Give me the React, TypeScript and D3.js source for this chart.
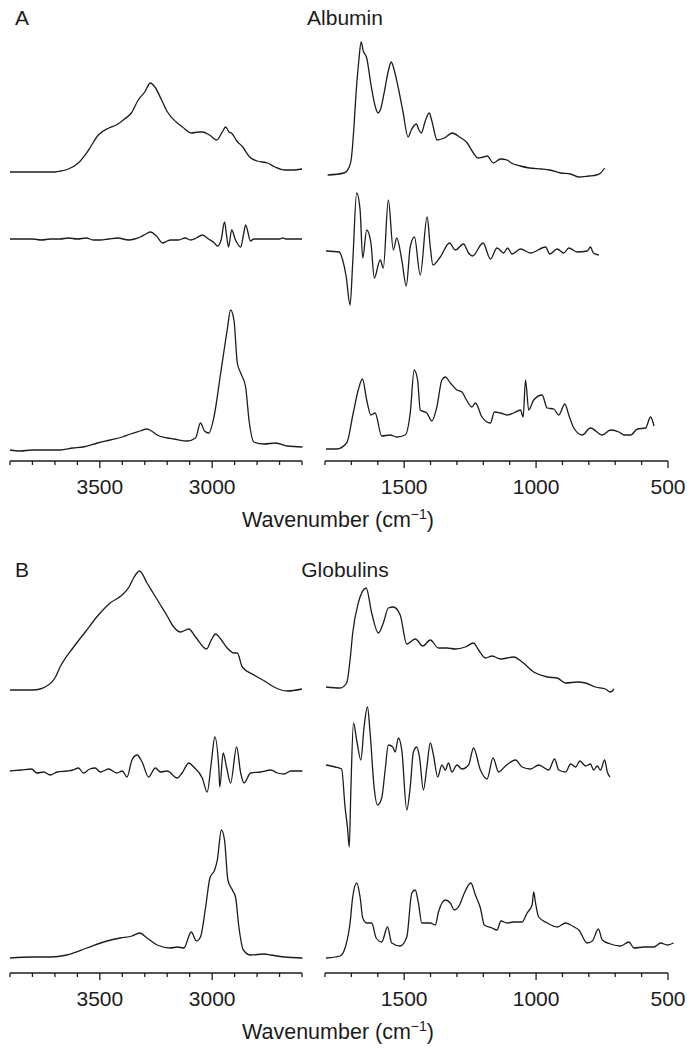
import React from "react";
import * as d3 from "d3";

const W = 693;
const H = 1050;

// [wavenumber (cm-1), relative intensity]
// Albumin: Raman-like spectrum, second derivative, FTIR spectrum
const albuminTopLeft: [number, number][] = [
  [3900, 0], [3850, 0], [3800, 0], [3750, 0], [3700, 0], [3672, 1], [3640, 3], [3596, 9],
  [3550, 22], [3507, 37], [3460, 44], [3427, 47], [3390, 53], [3360, 59], [3329, 72], [3300, 80],
  [3275, 89], [3255, 85], [3225, 72], [3199, 60], [3160, 50], [3132, 45], [3092, 39], [3060, 40],
  [3043, 40], [3012, 37], [2980, 32], [2955, 40], [2940, 45], [2925, 40], [2914, 39], [2890, 31],
  [2864, 25], [2833, 15], [2800, 11], [2753, 9], [2720, 5], [2677, 2], [2640, 2], [2600, 3],
];
const albuminTopRight: [number, number][] = [
  [1790, 1], [1728, 3], [1710, 8], [1701, 16], [1690, 50], [1684, 76], [1672, 115], [1663, 134],
  [1655, 125], [1642, 118], [1625, 90], [1610, 70], [1599, 63], [1588, 68], [1576, 83], [1560, 105],
  [1549, 114], [1540, 108], [1523, 89], [1505, 65], [1485, 39], [1473, 46], [1454, 52], [1444, 46],
  [1435, 43], [1420, 55], [1405, 63], [1395, 55], [1375, 36], [1348, 38], [1318, 43], [1290, 39],
  [1261, 33], [1240, 24], [1219, 18], [1200, 19], [1185, 20], [1162, 13], [1135, 17], [1110, 16],
  [1094, 13], [1060, 10], [1025, 8], [980, 7], [949, 6], [907, 3], [870, 2], [839, -1], [800, 0],
  [771, 1], [755, 3], [740, 8],
];
const albuminDerivLeft: [number, number][] = [
  [3900, 0], [3850, 0], [3800, 0], [3760, -1], [3720, 0], [3677, 0], [3640, 1], [3600, 0],
  [3560, 1], [3530, -1], [3498, -1], [3460, 0], [3420, 1], [3373, -1], [3345, 0], [3320, 2],
  [3295, 5], [3275, 7], [3248, 3], [3221, -4], [3200, -2], [3186, -1], [3150, -1], [3120, 1],
  [3096, -1], [3070, 1], [3043, 4], [3016, 0], [2990, -4], [2976, -7], [2960, -1], [2945, 17],
  [2935, 2], [2927, -8], [2913, 9], [2896, -1], [2873, -8], [2860, 5], [2851, 14], [2829, -2],
  [2815, 0], [2780, 0], [2739, 0], [2700, 0], [2686, 1], [2672, 0], [2600, 0],
];
const albuminDerivRight: [number, number][] = [
  [1796, 0], [1746, -1], [1733, -9], [1720, -25], [1705, -54], [1695, -12], [1680, 58], [1667, 41],
  [1657, -7], [1642, 21], [1626, 8], [1613, -27], [1591, -9], [1579, -17], [1560, 51], [1541, 1],
  [1528, 13], [1509, -9], [1492, -35], [1477, 4], [1461, 14], [1439, -24], [1413, 34], [1401, 4],
  [1391, -14], [1363, -6], [1328, 8], [1306, 1], [1275, 7], [1256, -2], [1241, -5], [1201, 8],
  [1173, -8], [1148, 3], [1123, -2], [1108, 3], [1091, -3], [1059, 2], [1021, -2], [964, 4],
  [948, -3], [920, 2], [895, -2], [876, 3], [844, -1], [806, 0], [794, 4], [783, -2], [762, -4],
];
const albuminBottomLeft: [number, number][] = [
  [3900, 0], [3855, -1], [3800, 0], [3750, 0], [3677, 0], [3620, 2], [3574, 3], [3510, 7],
  [3454, 10], [3400, 13], [3364, 16], [3320, 19], [3290, 21], [3270, 19], [3245, 15], [3200, 12],
  [3171, 11], [3111, 9], [3074, 12], [3052, 27], [3034, 19], [3015, 17], [2992, 33], [2962, 77],
  [2933, 120], [2918, 140], [2903, 130], [2888, 87], [2873, 77], [2851, 63], [2836, 30], [2814, 8],
  [2769, 6], [2717, 7], [2665, 4], [2598, 3],
];
const albuminBottomRight: [number, number][] = [
  [1796, 0], [1756, 0], [1718, 6], [1693, 36], [1674, 59], [1658, 70], [1642, 49], [1626, 34],
  [1610, 36], [1585, 13], [1553, 14], [1528, 12], [1496, 14], [1477, 36], [1462, 79], [1449, 69],
  [1439, 39], [1414, 36], [1395, 28], [1376, 42], [1357, 69], [1344, 72], [1325, 66], [1300, 59],
  [1281, 57], [1268, 51], [1243, 42], [1230, 46], [1205, 32], [1173, 26], [1158, 37], [1135, 36],
  [1110, 34], [1085, 36], [1059, 39], [1049, 32], [1040, 69], [1028, 39], [1009, 49], [977, 54],
  [958, 41], [933, 40], [914, 34], [891, 45], [876, 34], [857, 21], [825, 14], [794, 21], [749, 14],
  [718, 19], [686, 17], [667, 14], [642, 14], [616, 20], [585, 21], [566, 32], [553, 23],
];

// Globulins
const globulinTopLeft: [number, number][] = [
  [3900, 0], [3800, 0], [3766, 1], [3744, 3], [3700, 12], [3677, 23], [3620, 42], [3565, 58],
  [3510, 74], [3454, 87], [3401, 95], [3370, 103], [3350, 112], [3323, 119], [3290, 107], [3260, 96],
  [3230, 85], [3200, 74], [3171, 63], [3141, 58], [3104, 61], [3074, 53], [3025, 41], [3004, 50],
  [2985, 56], [2962, 51], [2933, 42], [2903, 37], [2888, 37], [2866, 23], [2814, 15], [2760, 8],
  [2725, 3], [2665, -1], [2600, 1],
];
const globulinTopRight: [number, number][] = [
  [1796, 2], [1743, 1], [1718, 6], [1705, 29], [1695, 56], [1674, 86], [1644, 101], [1623, 76],
  [1598, 56], [1579, 66], [1560, 81], [1541, 82], [1515, 74], [1490, 45], [1458, 50], [1429, 43],
  [1401, 49], [1370, 41], [1338, 41], [1306, 40], [1268, 42], [1237, 46], [1218, 39], [1192, 31],
  [1167, 33], [1135, 30], [1085, 32], [1053, 27], [1009, 17], [958, 12], [920, 11], [888, 6],
  [844, 7], [813, 6], [775, 2], [737, 0], [718, -3], [705, 0],
];
const globulinDerivLeft: [number, number][] = [
  [3900, 0], [3850, 1], [3803, 2], [3781, -2], [3750, -1], [3721, -4], [3690, -1], [3647, 0],
  [3620, 1], [3595, 3], [3573, -2], [3545, 2], [3521, 3], [3498, -1], [3461, 2], [3424, -2],
  [3400, 0], [3379, -6], [3357, 11], [3334, 16], [3312, 9], [3283, -6], [3253, 3], [3230, -1],
  [3200, 0], [3156, -7], [3134, -2], [3104, 8], [3082, 4], [3044, -7], [3022, -21], [3004, 8],
  [2988, 34], [2970, 1], [2966, -16], [2951, 18], [2936, 4], [2918, -12], [2891, 24], [2873, -2],
  [2858, -12], [2829, -2], [2784, -1], [2739, 1], [2709, -2], [2680, -3], [2650, 0], [2598, 0],
];
const globulinDerivRight: [number, number][] = [
  [1796, 1], [1762, -1], [1737, -3], [1724, -41], [1715, -61], [1708, -81], [1702, -24], [1692, 43],
  [1680, 26], [1664, 6], [1652, 39], [1639, 59], [1629, 33], [1614, -21], [1601, -39], [1585, -32],
  [1572, -4], [1560, 21], [1543, 19], [1534, 14], [1522, 28], [1509, 16], [1490, -44], [1477, -21],
  [1465, 14], [1452, 19], [1442, 9], [1427, -24], [1414, -1], [1401, 23], [1389, 11], [1373, -11],
  [1357, 1], [1344, -4], [1332, 3], [1319, -6], [1300, 1], [1281, -3], [1256, 1], [1237, 18],
  [1211, -4], [1186, -13], [1163, 8], [1142, -6], [1116, 0], [1078, 6], [1053, -1], [1021, -3],
  [990, 1], [952, -4], [930, 7], [914, -4], [888, -6], [869, 2], [850, -1], [834, 5], [812, 0],
  [794, 2], [782, -4], [768, 0], [756, -4], [740, 6], [730, -6], [720, -11],
];
const globulinBottomLeft: [number, number][] = [
  [3900, 0], [3800, 1], [3721, 1], [3647, 3], [3558, 10], [3468, 17], [3409, 20], [3357, 22],
  [3323, 25], [3290, 20], [3245, 13], [3186, 10], [3156, 11], [3126, 10], [3093, 26], [3070, 17],
  [3052, 21], [3029, 51], [3010, 80], [2989, 88], [2977, 98], [2959, 128], [2945, 118], [2930, 78],
  [2910, 68], [2896, 61], [2881, 31], [2861, 8], [2829, 3], [2769, 4], [2739, 3], [2680, 1], [2598, 0],
];
const globulinBottomRight: [number, number][] = [
  [1796, 0], [1743, 2], [1724, 10], [1705, 35], [1695, 61], [1680, 75], [1667, 61], [1657, 40],
  [1642, 35], [1623, 35], [1606, 20], [1585, 16], [1563, 31], [1547, 15], [1515, 12], [1490, 21],
  [1471, 65], [1458, 68], [1446, 55], [1433, 35], [1401, 35], [1382, 33], [1370, 46], [1344, 58],
  [1325, 55], [1310, 48], [1290, 53], [1275, 63], [1247, 75], [1230, 63], [1211, 50], [1196, 33],
  [1167, 30], [1148, 28], [1133, 37], [1110, 35], [1085, 36], [1053, 36], [1034, 45], [1015, 53],
  [1009, 66], [1002, 55], [990, 41], [958, 35], [920, 31], [888, 35], [869, 33], [856, 31], [838, 28],
  [806, 15], [787, 17], [764, 29], [749, 18], [718, 14], [680, 12], [648, 16], [629, 10], [591, 11],
  [553, 11], [528, 15], [502, 13], [479, 15],
];

const leftMajor = [3500, 3000];
const leftMinor = [3900, 3800, 3700, 3600, 3400, 3300, 3200, 3100, 2900, 2800, 2700, 2600];
const rightMajor = [1500, 1000, 500];
const rightMinor = [1800, 1700, 1600, 1400, 1300, 1200, 1100, 900, 800, 700, 600];

// stacking offsets of each trace above its axis (left part, right part)
const panels = [
  {
    letter: "A", title: "Albumin", axisY: 461, titleY: 25,
    traces: [
      { left: albuminTopLeft, right: albuminTopRight, offL: 289, offR: 285 },
      { left: albuminDerivLeft, right: albuminDerivRight, offL: 222, offR: 210 },
      { left: albuminBottomLeft, right: albuminBottomRight, offL: 11, offR: 12 },
    ],
  },
  {
    letter: "B", title: "Globulins", axisY: 973, titleY: 577,
    traces: [
      { left: globulinTopLeft, right: globulinTopRight, offL: 283, offR: 284 },
      { left: globulinDerivLeft, right: globulinDerivRight, offL: 202, offR: 207 },
      { left: globulinBottomLeft, right: globulinBottomRight, offL: 15, offR: 15 },
    ],
  },
];

const font = "'Liberation Sans', Arial, Helvetica, sans-serif";
const ink = "#1c1c1c";

export default function App() {
  const xL = d3.scaleLinear().domain([3900, 2600]).range([10, 302]);
  const xR = d3.scaleLinear().domain([1800, 500]).range([325, 668]);

  return (
    <svg width={W} height={H} style={{ position: "absolute", left: 0, top: 0, background: "#fff" }}
      fontFamily={font}>
      {panels.map((p) => {
        const y = d3.scaleLinear().domain([0, 440]).range([p.axisY, p.axisY - 440]);
        const mk = (x: d3.ScaleLinear<number, number>, off: number) =>
          d3.line<[number, number]>()
            .x((d) => x(d[0]))
            .y((d) => y(d[1] + off))
            .curve(d3.curveMonotoneX);
        return (
          <g key={p.letter}>
            <text x={15} y={p.titleY} fontSize={21} fill={ink}>{p.letter}</text>
            <text x={345} y={p.titleY} fontSize={21} fill={ink} textAnchor="middle">{p.title}</text>
            {p.traces.map((t, i) => (
              <g key={i} fill="none" stroke={ink} strokeWidth={1.3} strokeLinejoin="round">
                <path d={mk(xL, t.offL)(t.left) || ""} />
                <path d={mk(xR, t.offR)(t.right) || ""} />
              </g>
            ))}
            {[{ x: xL, major: leftMajor, minor: leftMinor }, { x: xR, major: rightMajor, minor: rightMinor }].map((ax, i) => (
              <g key={"ax" + i} stroke={ink} strokeWidth={1.3}>
                <line x1={ax.x.range()[0]} x2={ax.x.range()[1]} y1={p.axisY} y2={p.axisY} />
                {ax.minor.map((v) => (
                  <line key={v} x1={ax.x(v)} x2={ax.x(v)} y1={p.axisY} y2={p.axisY + 4} />
                ))}
                {ax.major.map((v) => (
                  <line key={v} x1={ax.x(v)} x2={ax.x(v)} y1={p.axisY} y2={p.axisY + 7} />
                ))}
                {ax.major.map((v) => (
                  <text key={"t" + v} x={ax.x(v)} y={p.axisY + 33} stroke="none" fill={ink}
                    fontSize={21} textAnchor="middle">{v}</text>
                ))}
              </g>
            ))}
            <text x={338} y={p.axisY + 66} fontSize={21.5} fill={ink} textAnchor="middle">
              Wavenumber (cm<tspan dy={-8} fontSize={14}>−1</tspan><tspan dy={8}>)</tspan>
            </text>
          </g>
        );
      })}
    </svg>
  );
}
